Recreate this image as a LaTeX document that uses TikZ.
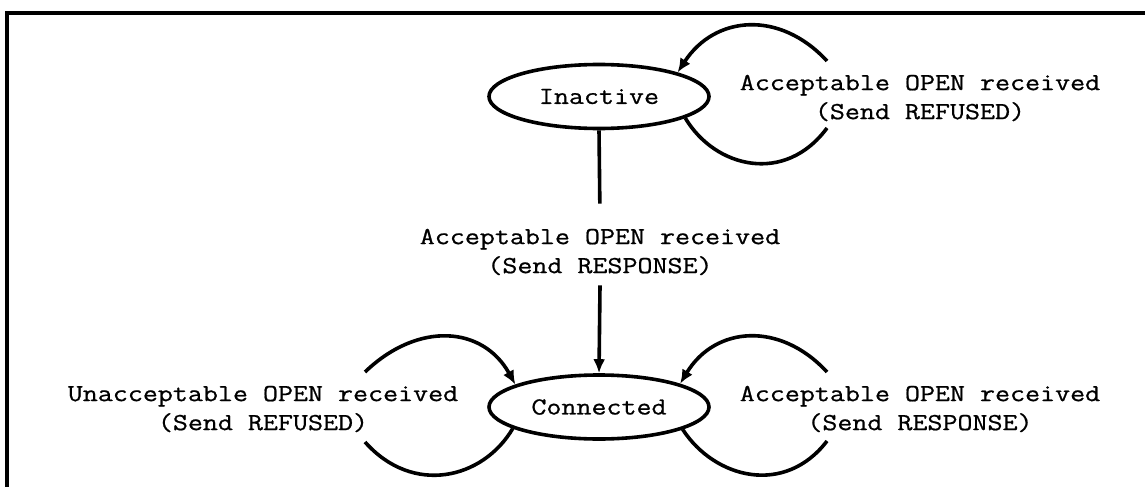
\documentclass[tikz,border=0pt]{standalone}
\usepackage{fontspec}
\setmonofont{Latin Modern Mono}[FakeStretch=1.19,FakeBold=0.8]
\usetikzlibrary{arrows.meta,calc,shapes.geometric}
\begin{document}
\begin{tikzpicture}[x=1pt,y=-1pt,
  every node/.style={font=\ttfamily\fontsize{24.5}{29}\selectfont},
  state/.style={ellipse,draw,line width=3.6pt,minimum width=220pt,minimum height=64pt,inner sep=0pt},
  lbl/.style={align=center,inner xsep=0pt,inner ysep=10pt},
  edge/.style={line width=3.6pt},
  arr/.style={edge,-{Latex[length=14pt,width=12pt]}},
  frame/.style={line width=3.6pt}]
\useasboundingbox (0,0) rectangle (1145,487);

% enclosing frame, open at right and bottom
\draw[frame] (1145,13) -- (7,13) -- (7,487);

% states
\node[state] (inact) at (599,96.5) {Inactive};
\node[state] (conn)  at (599,407) {Connected};

% Inactive -> Connected
\node[lbl] (mid) at (600,252) {Acceptable OPEN received\\(Send RESPONSE)};
\draw[edge,shorten >=15pt] (inact.south) -- (mid.north);
\draw[arr] (mid.south) -- (conn.north);

% self-loop on Inactive
\node[lbl] (ilbl) at (920,98) {Acceptable OPEN received\\(Send REFUSED)};
\coordinate (ia) at (827,128);
\coordinate (ib) at (827,61);
\draw[edge] (inact.-14) .. controls (715,168) and (785,185) .. (ia);
\draw[arr] (ib) .. controls (780,10) and (715,15) .. (inact.17);

% self-loop on Connected, right side
\node[lbl] (crlbl) at (920,409) {Acceptable OPEN received\\(Send RESPONSE)};
\coordinate (ca) at (827,441);
\coordinate (cb) at (827,372);
\draw[edge] (conn.-15) .. controls (715,479) and (785,496) .. (ca);
\draw[arr] (cb) .. controls (780,321) and (715,326) .. (conn.16);

% self-loop on Connected, left side
\node[lbl] (cllbl) at (263,409) {Unacceptable OPEN received\\(Send REFUSED)};
\coordinate (la) at (365,442);
\coordinate (lb) at (365,372);
\draw[edge] (conn.194) .. controls (483,479) and (413,496) .. (la);
\draw[arr] (lb) .. controls (418,321) and (483,326) .. (conn.165);
\end{tikzpicture}
\end{document}
